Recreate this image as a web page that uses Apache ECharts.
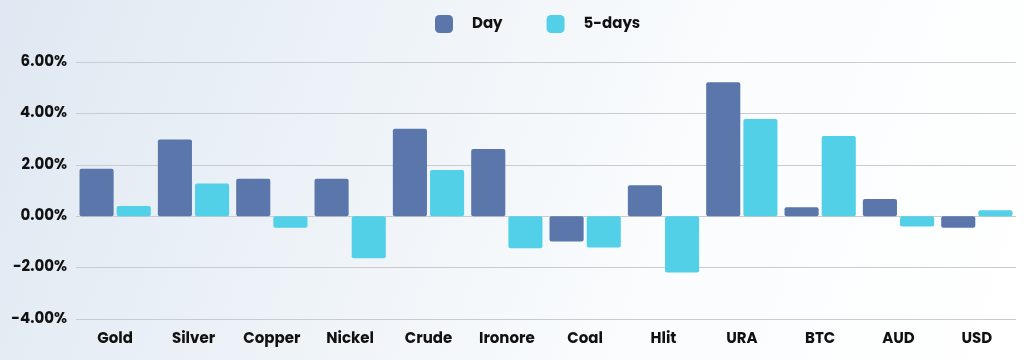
<!DOCTYPE html>
<html>
<head>
<meta charset="utf-8">
<script src="https://cdn.jsdelivr.net/npm/echarts@6/dist/echarts.min.js"></script>
<style>
html,body{margin:0;padding:0;}
body{width:1024px;height:360px;background:linear-gradient(110deg,#dfe8f2 0%,#eef3f8 35%,#fafcfd 65%,#ffffff 100%);}
#c{width:1024px;height:360px;}
</style>
</head>
<body>
<div id="c"></div>
<script>
const categories = ['Gold','Silver','Copper','Nickel','Crude','Ironore','Coal','Hlit','URA','BTC','AUD','USD'];
const dayValues = [1.85, 2.98, 1.46, 1.46, 3.40, 2.61, -0.98, 1.20, 5.21, 0.35, 0.67, -0.45];
const fiveDayValues = [0.40, 1.27, -0.45, -1.64, 1.80, -1.25, -1.22, -2.19, 3.78, 3.12, -0.40, 0.23];
const seriesNames = ['Day', '5-days'];

const chart = echarts.init(document.getElementById('c'), null, {renderer:'canvas'});
const font = 'Poppins, Inter, "Noto Sans", sans-serif';
chart.setOption({
  backgroundColor: 'transparent',
  animation: false,
  legend: {
    top: 10, left: 430,
    itemWidth: 18, itemHeight: 18, itemGap: 44,
    textStyle: {fontFamily: font, fontWeight: 'bold', fontSize: 15, color: '#111', padding:[0,0,0,14]},
    data: seriesNames
  },
  grid: {left: 76, right: 8, top: 62, bottom: 41, containLabel: false},
  xAxis: {
    type: 'category', data: categories,
    axisLine: {show: false}, axisTick: {show: false},
    axisLabel: {fontFamily: font, fontWeight: 'bold', fontSize: 15, color: '#111', margin: 13}
  },
  yAxis: {
    type: 'value', min: -4, max: 6, interval: 2,
    axisLine: {show: false}, axisTick: {show: false},
    splitLine: {lineStyle: {color: '#c9cbcf', width: 1}},
    axisLabel: {fontFamily: font, fontWeight: 'bold', fontSize: 15, color: '#111', margin: 9,
      formatter: v => v.toFixed(2) + '%'}
  },
  series: [
    {name: seriesNames[0], type: 'bar', data: dayValues, barGap: '9%', barCategoryGap: '9%',
     itemStyle: {color: '#5a76aa', borderRadius: 2}},
    {name: seriesNames[1], type: 'bar', data: fiveDayValues,
     itemStyle: {color: '#52d0e8', borderRadius: 2}}
  ]
});
</script>
</body>
</html>
